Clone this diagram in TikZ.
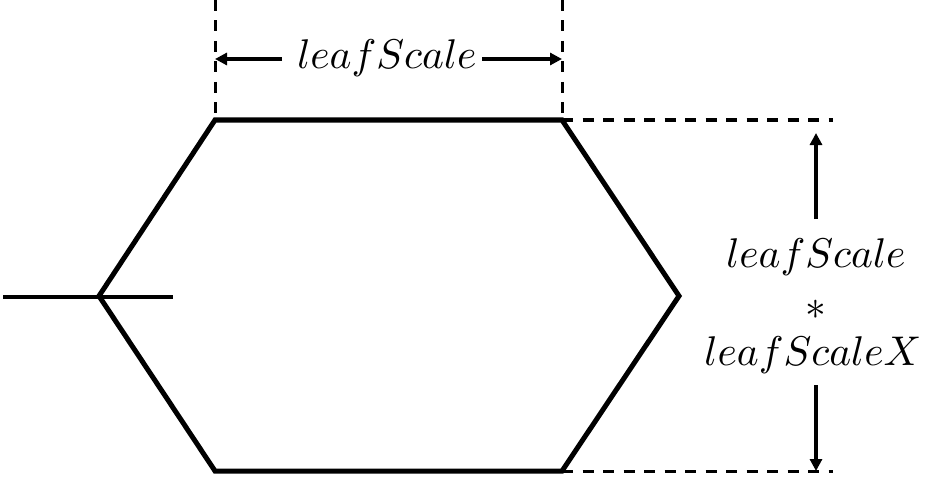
\documentclass[tikz,border=0pt]{standalone}
\usepackage{graphicx}
\usetikzlibrary{arrows.meta}
\begin{document}
\begin{tikzpicture}[x=1pt,y=-1pt,
  hexline/.style={line width=5pt,line join=miter},
  dimdash/.style={line width=3pt,dash pattern=on 11pt off 9.5pt},
  dimarrow/.style={line width=3.5pt,-{Triangle[length=12pt,width=12pt]}},
  lbl/.style={inner sep=0pt}]
\useasboundingbox (0,0) rectangle (946,487);
% hexagon vertices
\coordinate (tl) at (215,120);
\coordinate (tr) at (562,120);
\coordinate (r) at (679,296);
\coordinate (br) at (562,471);
\coordinate (bl) at (215,471);
\coordinate (l) at (99,296);
\draw[hexline] (tl) -- (tr) -- (r) -- (br) -- (bl) -- (l) -- cycle;
% stem
\coordinate (s1) at (3,297);
\coordinate (s2) at (173,297);
\draw[line width=4.5pt] (s1) -- (s2);
% top dimension
\coordinate (d1) at (215,0);
\coordinate (d2) at (562,0);
\draw[dimdash] (d1) -- (tl);
\draw[dimdash] (d2) -- (tr);
\coordinate (a1) at (215,59);
\coordinate (a2) at (562,59);
\node[lbl] (top) at (387,58) {\scalebox{4.15}{$leafScale$}};
\coordinate (g1) at (282,59);
\coordinate (g2) at (482,59);
\draw[dimarrow] (g1) -- (a1);
\draw[dimarrow] (g2) -- (a2);
% right dimension
\coordinate (e1) at (833,120);
\coordinate (e2) at (833,471);
\draw[dimdash] (tr) -- (e1);
\draw[dimdash] (br) -- (e2);
\node[lbl] (r1) at (816,257) {\scalebox{4.15}{$leafScale$}};
\node[lbl] (r2) at (816,310) {\scalebox{4.15}{$*$}};
\node[lbl] (r3) at (813,355) {\scalebox{4.15}{$leafScaleX$}};
\coordinate (u1) at (816,219);
\coordinate (u2) at (816,133);
\coordinate (v1) at (816,385);
\coordinate (v2) at (816,471);
\draw[dimarrow] (u1) -- (u2);
\draw[dimarrow] (v1) -- (v2);
\end{tikzpicture}
\end{document}
